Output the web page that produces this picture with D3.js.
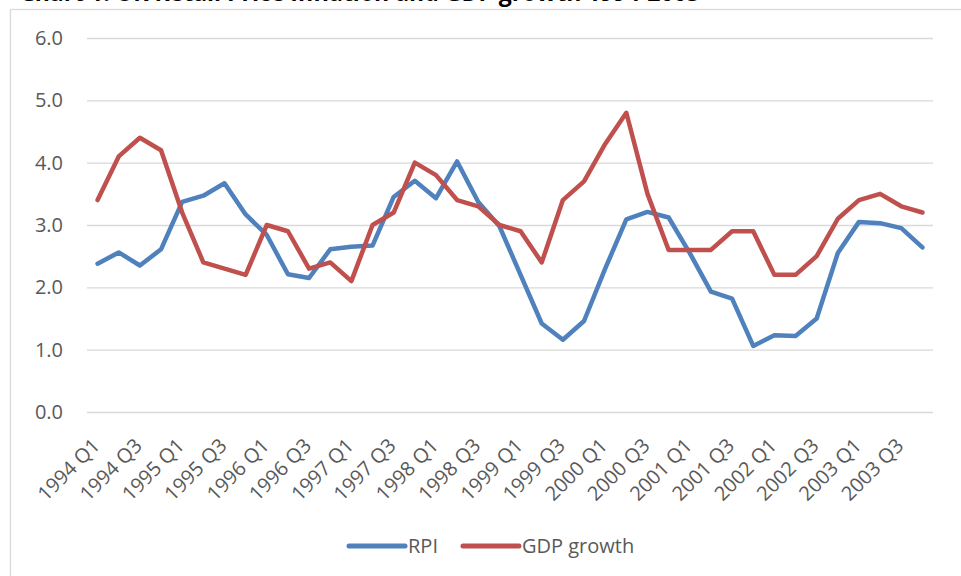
<!DOCTYPE html>
<html>
<head>
<meta charset="utf-8">
<script src="https://cdn.jsdelivr.net/npm/d3@7"></script>
<style>
  html, body { margin: 0; padding: 0; background: #ffffff; overflow: hidden; }
  svg { display: block; }
  text { font-family: "Open Sans", "Noto Sans", sans-serif; }
</style>
</head>
<body>
<script>
// Quarterly categories, 1994 Q1 – 2003 Q4
const years = [1994, 1995, 1996, 1997, 1998, 1999, 2000, 2001, 2002, 2003];
const quarters = ["Q1", "Q2", "Q3", "Q4"];
const categories = years.flatMap(y => quarters.map(q => `${y} ${q}`));

// Annual % changes
const rpi = [
  2.38, 2.56, 2.35, 2.61, 3.37, 3.47, 3.67, 3.17,
  2.84, 2.21, 2.15, 2.61, 2.65, 2.67, 3.45, 3.71,
  3.43, 4.02, 3.37, 2.98, 2.20, 1.42, 1.16, 1.46,
  2.30, 3.09, 3.21, 3.12, 2.55, 1.93, 1.82, 1.06,
  1.23, 1.22, 1.50, 2.55, 3.05, 3.03, 2.95, 2.64
];
const gdpGrowth = [
  3.4, 4.1, 4.4, 4.2, 3.2, 2.4, 2.3, 2.2,
  3.0, 2.9, 2.3, 2.4, 2.1, 3.0, 3.2, 4.0,
  3.8, 3.4, 3.3, 3.0, 2.9, 2.4, 3.4, 3.7,
  4.3, 4.8, 3.5, 2.6, 2.6, 2.6, 2.9, 2.9,
  2.2, 2.2, 2.5, 3.1, 3.4, 3.5, 3.3, 3.2
];
const yTicks = [0, 1, 2, 3, 4, 5, 6];
const xTickLabels = categories.filter((d, i) => i % 2 === 0);

const seriesNames = ["RPI", "GDP growth"];
const seriesColors = ["#4F81BD", "#C0504D"];
const chartTitle = "Chart 1: UK Retail Price Inflation and GDP growth 1994-2003";

const W = 961, H = 576;
const svg = d3.select("body").append("svg").attr("width", W).attr("height", H);

// Title (sits above the chart frame, running off the top edge)
svg.append("text")
  .attr("x", 20).attr("y", 0.5)
  .attr("font-size", 23).attr("font-weight", 700)
  .attr("fill", "#000")
  .text(chartTitle);

// Chart frame
svg.append("rect")
  .attr("x", 10.5).attr("y", 9.5)
  .attr("width", 1000).attr("height", 1000)
  .attr("fill", "#fff").attr("stroke", "#d9d9d9").attr("stroke-width", 1.3);

const plot = { left: 87, right: 933, top: 38, bottom: 412 };

const x = d3.scalePoint().domain(categories).range([plot.left, plot.right]).padding(0.5);
const y = d3.scaleLinear().domain([0, 6]).range([plot.bottom, plot.top]);

// Horizontal gridlines + value labels
const yAxis = d3.axisLeft(y).tickValues(yTicks).tickFormat(d3.format(".1f"))
  .tickSize(-(plot.right - plot.left)).tickPadding(24);
const gy = svg.append("g").attr("transform", `translate(${plot.left},0)`).call(yAxis);
gy.select(".domain").remove();
gy.selectAll(".tick line").attr("stroke", "#d9d9d9").attr("stroke-width", 1.4);
gy.selectAll(".tick text")
  .attr("font-size", 20).attr("fill", "#595959")
  .attr("font-family", "'Open Sans', sans-serif");

// Category labels, rotated
const xAxis = d3.axisBottom(x).tickValues(xTickLabels).tickSize(0).tickPadding(0);
const gx = svg.append("g").attr("transform", `translate(0,${plot.bottom})`).call(xAxis);
gx.select(".domain").remove();
gx.selectAll(".tick text")
  .attr("font-size", 20).attr("fill", "#595959")
  .attr("font-family", "'Open Sans', sans-serif")
  .attr("text-anchor", "end")
  .attr("dy", null).attr("y", null)
  .attr("transform", "translate(3,35) rotate(-45)");

// Series lines
const seriesData = [rpi, gdpGrowth];
const line = d3.line().x((d, i) => x(categories[i])).y(d => y(d));
seriesData.forEach((vals, k) => {
  svg.append("path")
    .datum(vals)
    .attr("d", line)
    .attr("fill", "none")
    .attr("stroke", seriesColors[k])
    .attr("stroke-width", 4.5)
    .attr("stroke-linejoin", "round")
    .attr("stroke-linecap", "round");
});

// Legend
const legend = svg.append("g");
let lx = 349;
const ly = 546;
seriesNames.forEach((name, k) => {
  legend.append("line")
    .attr("x1", lx).attr("x2", lx + 56)
    .attr("y1", ly).attr("y2", ly)
    .attr("stroke", seriesColors[k]).attr("stroke-width", 5)
    .attr("stroke-linecap", "round");
  const t = legend.append("text")
    .attr("x", lx + 59).attr("y", ly + 7)
    .attr("font-size", 20).attr("fill", "#595959")
    .text(name);
  lx += 59 + t.node().getComputedTextLength() + 25;
});
</script>
</body>
</html>
